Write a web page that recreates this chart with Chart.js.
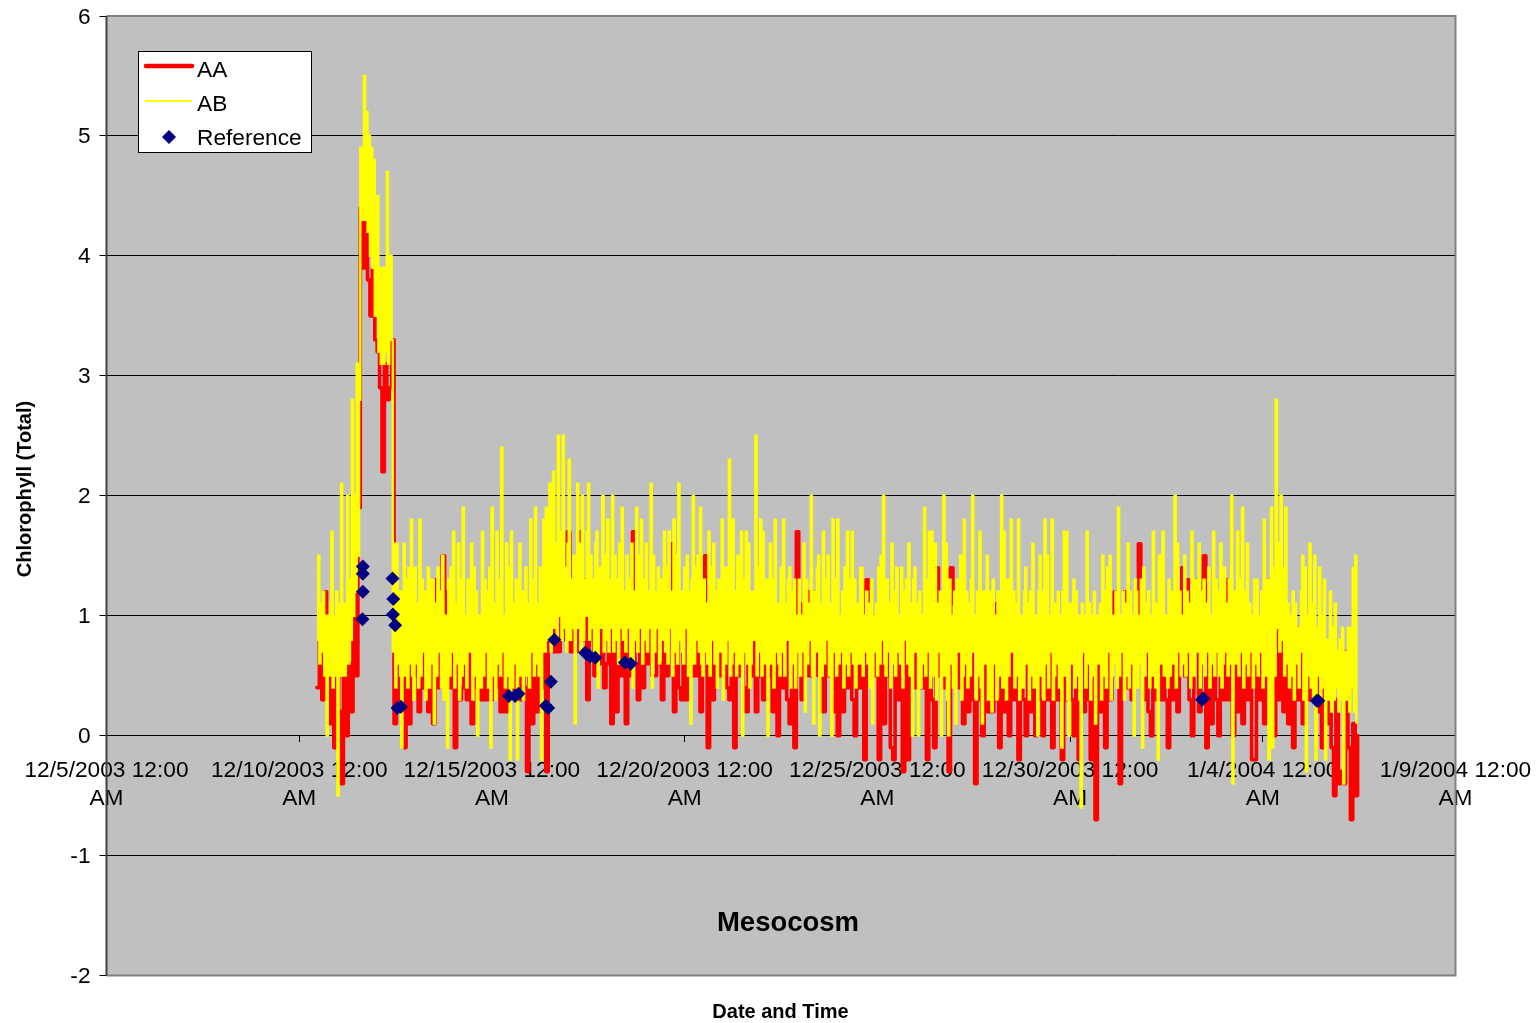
<!DOCTYPE html>
<html>
<head>
<meta charset="utf-8">
<title>Mesocosm</title>
<script src="https://cdn.jsdelivr.net/npm/chart.js@4"></script>
<style>
  html, body { margin: 0; padding: 0; background: #fff; }
  canvas { display: block; }
</style>
</head>
<body>
<canvas id="chlorophyll" width="1539" height="1023"></canvas>
<script>
// x axis is in days since 12/5/2003
const startDay = 5.46;
const aaStepDays = 0.0625;
const abStepDays = 0.03125;

const xTickLabels = [
  ["12/5/2003 12:00", "AM"], ["12/10/2003 12:00", "AM"], ["12/15/2003 12:00", "AM"],
  ["12/20/2003 12:00", "AM"], ["12/25/2003 12:00", "AM"], ["12/30/2003 12:00", "AM"],
  ["1/4/2004 12:00", "AM"], ["1/9/2004 12:00", "AM"],
];

const aaValues = [
  0.4,0.9,0.3,1.2,0.5,0.1,0.7,-0.1,0.6,0.2,-0.4,0.7,0.0,0.6,0.2,1.9,0.5,1.9,4.4,3.9,
  4.6,3.8,3.5,3.9,3.3,3.2,2.9,2.2,3.1,2.8,2.9,3.3,0.1,0.9,0.3,0.9,-0.1,0.8,0.1,0.7,
  0.5,0.9,0.2,0.8,0.4,0.9,0.2,0.8,0.1,1.3,0.4,0.9,1.5,0.4,1.2,0.4,0.9,-0.1,0.8,0.3,
  0.4,0.9,0.3,0.8,0.1,0.9,0.4,0.8,0.3,0.9,0.3,0.8,0.3,0.9,0.4,0.8,0.2,0.9,0.2,0.7,
  0.4,0.8,0.3,0.9,0.3,0.8,0.4,-0.3,0.9,0.1,0.8,0.2,0.9,0.4,0.9,-0.3,1.2,1.9,0.7,1.2,
  0.7,1.3,0.9,0.8,1.7,0.7,1.2,0.7,1.2,1.7,0.8,1.3,0.3,1.1,0.8,0.5,1.1,0.6,1.0,0.4,
  0.6,1.0,0.1,0.9,0.2,1.0,0.5,1.0,0.1,1.1,0.5,1.7,0.6,0.3,1.0,0.4,1.0,0.6,1.0,0.5,
  0.5,1.0,0.6,0.3,1.0,0.5,1.0,1.6,0.2,0.9,0.4,0.3,0.9,0.3,0.9,0.5,1.0,0.5,1.0,0.2,
  0.9,1.5,-0.1,0.9,0.3,1.0,0.5,0.9,0.5,1.0,0.4,0.3,0.9,-0.1,0.9,0.5,1.0,0.4,0.2,0.9,
  0.5,0.9,0.2,0.8,0.5,0.3,0.9,0.5,0.9,0.2,0.9,0.0,0.8,0.4,0.9,0.3,0.1,0.8,-0.1,1.7,
  1.1,0.3,0.9,0.5,1.2,0.5,0.9,1.2,0.5,0.9,0.2,0.8,0.5,0.9,0.2,0.8,0.0,0.8,0.2,0.8,
  0.4,0.9,0.3,0.0,0.9,0.4,0.9,-0.2,1.3,0.9,1.0,0.5,1.0,-0.2,0.9,0.1,0.8,0.5,-0.1,-0.2,
  0.7,0.3,0.8,-0.3,0.8,-0.2,0.8,0.4,0.9,0.4,0.8,0.4,0.8,-0.2,0.8,0.3,-0.1,1.4,0.5,0.9,
  0.4,0.8,-0.3,1.4,1.1,0.9,0.4,0.8,0.1,0.8,0.2,0.8,0.3,-0.4,0.8,0.3,0.0,0.8,0.2,0.9,
  0.2,1.1,0.3,-0.1,0.9,0.2,0.8,0.0,0.9,0.3,0.8,-0.2,0.8,0.3,0.0,0.8,0.2,0.8,0.0,0.8,
  0.3,0.0,0.8,0.3,0.8,-0.1,0.8,0.3,0.8,-0.2,0.8,0.3,0.8,0.3,0.0,0.8,-0.2,0.8,0.2,0.9,
  0.3,-0.2,0.7,-0.7,0.7,0.2,0.8,-0.1,0.8,0.3,0.9,1.2,0.6,-0.4,0.9,1.2,0.4,0.9,0.3,0.9,
  0.9,1.6,0.9,0.3,0.8,0.2,0.0,0.8,0.3,0.8,0.3,0.8,0.3,-0.1,0.8,0.3,0.8,0.2,0.8,1.4,
  0.5,1.3,0.3,0.0,0.9,1.3,0.2,0.9,1.5,-0.1,0.9,0.1,0.9,0.3,0.0,0.9,0.3,1.3,0.3,0.9,
  0.0,0.9,0.2,0.9,0.1,0.9,0.3,0.9,-0.2,-0.2,0.9,0.3,0.9,0.1,0.8,1.3,0.3,0.0,0.9,0.3,
  0.9,0.2,0.9,0.1,0.9,-0.1,0.9,0.3,0.8,0.1,0.8,0.3,0.8,0.3,0.7,0.2,0.7,-0.1,0.7,0.1,
  0.6,-0.1,-0.5,0.3,-0.4,-0.3,-0.4,0.7,-0.1,-0.7,0.1,-0.5,0.0,
];

const abValues = [
  0.8,1.5,0.6,1.1,0.7,1.2,0.5,1.0,0.0,1.0,0.5,1.1,1.7,0.4,1.0,0.5,1.2,-0.5,1.1,0.5,2.1,0.5,1.1,0.5,0.6,2.0,0.6,1.3,0.8,2.8,1.0,2.0,1.2,3.1,1.5,2.8,4.9,4.3,4.9,5.5,
  4.3,5.2,4.2,5.0,4.0,4.9,3.9,4.8,3.5,3.9,4.5,3.2,3.9,3.1,3.9,3.1,3.9,3.2,4.7,3.1,3.9,4.0,3.3,0.7,1.6,0.4,1.6,0.6,1.2,0.5,-0.1,1.2,1.6,0.5,1.3,0.4,1.4,0.6,1.8,0.5,
  0.3,1.4,0.6,1.1,0.4,1.8,0.5,1.3,0.7,1.2,0.3,1.0,1.4,0.4,1.3,0.6,1.3,0.1,1.1,0.5,1.4,0.7,1.2,0.4,1.5,0.3,1.0,0.6,-0.1,1.3,0.5,1.4,0.7,1.7,0.4,1.1,0.6,1.6,0.3,1.3,
  0.5,1.9,0.6,1.0,0.4,1.3,0.7,1.1,1.6,0.3,1.4,0.5,1.2,0.0,1.0,0.6,0.4,1.7,0.5,1.3,0.7,1.2,0.4,1.4,-0.1,1.9,0.5,1.1,0.3,1.7,0.6,1.3,0.5,2.4,0.7,1.0,0.4,1.6,0.5,1.4,
  -0.2,1.7,0.4,1.1,0.6,1.3,-0.2,1.0,1.6,0.5,1.2,0.3,0.6,1.4,0.5,1.1,0.4,1.8,0.7,1.3,0.5,1.9,0.6,1.1,0.5,1.4,-0.2,1.3,1.8,0.7,1.9,0.9,0.8,2.1,0.7,1.5,2.2,0.9,1.6,0.8,
  2.5,1.0,1.7,0.8,2.5,0.9,1.4,0.7,1.6,2.3,0.8,1.3,0.9,1.5,0.1,1.2,2.1,0.9,1.6,0.7,2.0,0.8,1.3,1.0,1.7,2.1,0.8,1.5,0.9,1.3,0.7,1.6,1.7,0.4,1.4,0.9,1.3,2.0,0.7,1.5,
  0.8,1.8,0.7,1.3,0.9,2.0,0.7,1.5,0.8,1.3,0.6,1.6,0.9,1.9,0.8,1.2,0.7,1.5,0.9,1.3,0.6,1.6,0.4,1.2,0.8,1.9,0.7,1.5,0.9,1.8,0.6,1.3,0.8,1.6,0.7,1.2,0.9,2.1,0.4,1.5,
  0.7,1.2,0.9,1.4,0.6,1.3,0.8,1.1,1.7,0.7,1.4,0.6,1.7,0.9,1.2,0.5,1.8,0.7,1.5,0.6,2.1,0.8,1.2,0.7,0.6,1.4,0.9,1.5,0.5,1.2,0.1,1.3,2.0,0.6,1.4,0.8,1.5,0.7,1.9,0.6,
  0.5,1.3,0.7,1.1,0.6,1.7,0.5,1.4,0.8,1.6,0.6,1.2,0.4,1.3,0.7,1.0,1.8,0.3,1.4,0.6,1.4,0.8,2.3,0.5,0.6,1.8,0.7,1.2,0.5,1.5,0.6,1.1,1.7,0.0,1.3,0.7,1.7,0.6,1.6,0.4,
  0.6,1.2,0.8,1.1,2.5,0.5,1.4,0.7,1.8,0.5,1.7,0.6,0.7,1.3,0.0,1.0,1.6,0.6,1.3,0.4,1.8,0.7,1.1,0.6,0.5,1.4,0.7,1.8,0.5,1.1,0.8,1.3,1.4,0.4,1.2,0.6,1.3,0.4,1.0,0.7,
  1.3,0.5,1.0,0.7,1.6,0.2,1.3,0.6,1.1,0.8,2.0,0.5,0.1,1.2,0.7,1.4,1.5,0.0,1.1,0.5,1.7,0.6,1.3,0.8,1.5,0.5,1.1,0.0,1.8,0.7,1.3,0.5,1.8,0.6,1.0,0.7,1.2,0.4,1.4,0.6,
  1.7,0.5,1.3,0.7,1.7,0.6,1.3,0.4,0.8,1.1,0.6,1.4,1.4,0.5,1.0,0.7,1.2,0.6,1.1,0.4,1.3,0.1,1.0,0.7,1.1,0.5,1.4,0.6,1.5,0.8,2.0,0.6,0.5,1.3,0.7,1.1,0.4,1.6,0.6,1.2,
  0.5,1.4,0.7,1.0,0.6,1.4,0.4,1.2,0.8,1.3,0.6,1.6,0.5,1.1,0.0,1.3,1.4,0.7,1.1,0.0,1.2,0.4,1.0,0.6,1.9,0.5,1.3,0.7,1.7,0.4,1.7,0.6,0.5,1.6,0.3,1.1,0.7,1.2,0.0,1.0,
  2.0,0.5,1.6,0.3,0.0,1.3,0.6,1.0,0.4,1.2,0.1,1.3,0.7,1.0,1.5,0.3,0.5,1.8,0.6,1.2,0.4,1.1,0.5,1.3,2.0,0.7,1.0,0.3,1.2,0.5,1.7,0.4,0.1,1.2,0.6,1.0,1.5,0.3,1.2,0.5,
  0.2,1.3,0.6,1.0,0.3,1.2,0.5,1.1,2.0,0.4,1.7,0.6,0.3,1.3,0.5,1.0,1.8,0.7,1.2,0.4,1.1,0.5,1.8,0.3,0.6,1.0,0.4,1.2,1.4,0.6,1.1,0.3,1.2,0.5,1.6,0.4,0.7,1.0,0.0,1.2,
  1.5,0.5,1.2,0.3,1.8,0.6,1.5,0.4,0.7,1.0,1.8,0.3,0.5,1.1,0.6,1.2,0.4,1.0,-0.1,1.2,1.7,0.5,1.7,0.3,0.0,1.1,0.6,1.0,1.3,0.4,1.2,0.5,1.0,0.3,-0.6,1.1,0.7,1.0,0.4,1.7,
  0.6,1.1,0.3,1.0,0.5,1.2,0.1,0.9,1.0,0.6,1.1,0.3,1.5,0.5,1.2,0.4,1.4,0.7,1.5,0.3,0.5,1.0,0.6,1.2,0.4,1.9,0.5,1.0,0.7,1.2,0.3,1.1,0.5,1.6,0.4,1.2,0.6,1.0,0.0,1.3,
  1.2,0.4,1.0,0.6,1.3,-0.1,1.4,0.5,1.1,0.7,1.2,0.4,1.0,0.5,1.7,0.6,0.4,1.1,-0.2,1.5,0.6,1.2,1.7,0.5,0.7,1.0,0.4,1.3,0.5,1.2,0.6,1.1,2.0,0.4,1.6,0.7,1.2,0.5,1.0,0.6,
  1.5,0.5,1.2,0.7,1.1,0.4,1.7,0.6,0.5,1.3,0.7,1.0,1.6,0.4,1.2,0.6,1.3,0.5,1.1,0.7,1.4,0.4,1.0,0.6,1.7,0.5,1.3,0.7,1.2,0.5,1.6,0.4,0.6,1.4,0.7,1.1,0.5,1.3,0.6,2.0,
  -0.4,1.2,0.6,1.0,1.7,0.5,1.3,0.7,1.9,0.4,1.2,0.6,1.6,0.5,1.1,0.7,1.0,0.4,1.3,0.6,1.3,0.5,1.0,0.7,1.2,0.4,1.8,0.6,0.5,1.3,-0.2,1.1,1.9,-0.1,1.4,0.5,2.8,0.9,1.6,0.7,
  2.0,0.8,1.4,0.5,1.9,0.6,1.1,0.4,1.0,0.5,1.2,0.3,1.1,0.6,0.9,0.4,0.7,1.2,1.5,0.3,1.4,-0.3,1.0,0.5,1.6,0.4,1.1,0.3,1.5,-0.2,0.9,0.5,1.4,0.3,1.0,0.4,1.3,-0.2,0.8,0.3,
  0.4,1.2,0.2,0.9,0.3,1.1,0.4,0.7,0.2,0.8,0.3,0.9,-0.4,0.7,0.3,0.6,0.9,0.2,0.9,0.4,1.4,0.2,1.5,0.1,
];

const refDays = [
  6.65, 6.65, 6.65, 6.64, 7.42, 7.44, 7.43, 7.49, 7.55, 7.64, 10.44, 10.60,
  10.69, 11.40, 11.46, 11.53, 11.62, 12.42, 12.46, 12.55, 12.68, 13.45, 13.60,
  28.42, 28.46, 31.40, 31.44,
];
const refValues = [
  1.41, 1.35, 1.20, 0.97, 1.31, 1.14, 1.01, 0.92, 0.23, 0.24, 0.33, 0.33,
  0.35, 0.25, 0.23, 0.45, 0.80, 0.69, 0.68, 0.66, 0.65, 0.61, 0.60,
  0.30, 0.31, 0.29, 0.29,
];

const fontName = "'Liberation Sans', Arial, sans-serif";

// grey plot background and frame
const plotFrame = {
  id: "plotFrame",
  beforeDraw(chart) {
    const { ctx, chartArea: a } = chart;
    ctx.save();
    ctx.fillStyle = "#c0c0c0";
    ctx.fillRect(a.left, a.top, a.right - a.left, a.bottom - a.top);
    ctx.restore();
  },
  beforeDatasetsDraw(chart) {
    const { ctx, chartArea: a } = chart;
    ctx.save();
    ctx.strokeStyle = "#808080";
    ctx.lineWidth = 2;
    ctx.beginPath();
    ctx.moveTo(a.left, a.top);
    ctx.lineTo(a.right, a.top);
    ctx.lineTo(a.right, a.bottom);
    ctx.lineTo(a.left, a.bottom);
    ctx.stroke();
    ctx.strokeStyle = "#404040";
    ctx.beginPath();
    ctx.moveTo(a.left, a.top);
    ctx.lineTo(a.left, a.bottom);
    ctx.stroke();
    ctx.restore();
  },
};

// titles and the boxed legend sit where chart.js would not put them
const overlay = {
  id: "overlay",
  afterDraw(chart) {
    const { ctx } = chart;
    const sets = chart.data.datasets;
    ctx.save();
    ctx.fillStyle = "#000";
    ctx.textBaseline = "middle";
    ctx.textAlign = "center";

    ctx.font = "bold 27.5px " + fontName;
    ctx.fillText("Mesocosm", 788, 923);
    ctx.font = "bold 20px " + fontName;
    ctx.fillText("Date and Time", 780.5, 1012);

    ctx.save();
    ctx.translate(25, 489);
    ctx.rotate(-Math.PI / 2);
    ctx.fillText("Chlorophyll (Total)", 0, 0);
    ctx.restore();

    ctx.fillStyle = "#fff";
    ctx.fillRect(138, 51, 173, 101);
    ctx.strokeStyle = "#000";
    ctx.lineWidth = 1;
    ctx.strokeRect(138.5, 51.5, 173, 101);

    ctx.lineCap = "round";
    ctx.strokeStyle = sets[0].borderColor;
    ctx.lineWidth = 4.5;
    ctx.beginPath(); ctx.moveTo(146, 66); ctx.lineTo(192, 66); ctx.stroke();
    ctx.lineCap = "butt";
    ctx.strokeStyle = sets[1].borderColor;
    ctx.lineWidth = 2;
    ctx.beginPath(); ctx.moveTo(145, 101); ctx.lineTo(192, 101); ctx.stroke();

    ctx.fillStyle = sets[2].backgroundColor;
    ctx.beginPath();
    ctx.moveTo(169, 130); ctx.lineTo(176, 137); ctx.lineTo(169, 144); ctx.lineTo(162, 137);
    ctx.closePath();
    ctx.fill();

    ctx.fillStyle = "#000";
    ctx.textAlign = "left";
    ctx.font = "22.7px " + fontName;
    ctx.fillText(sets[0].label, 197, 70.5);
    ctx.fillText(sets[1].label, 197, 104.5);
    ctx.fillText(sets[2].label, 197, 138.5);
    ctx.restore();
  },
};

new Chart(document.getElementById("chlorophyll"), {
  type: "line",
  data: {
    datasets: [
      {
        label: "AA",
        data: aaValues.map((v, i) => ({ x: startDay + i * aaStepDays, y: v })),
        borderColor: "#ff0000",
        borderWidth: 3.6,
        borderJoinStyle: "round",
        borderCapStyle: "round",
        stepped: true,
        pointRadius: 0,
        order: 3,
      },
      {
        label: "AB",
        data: abValues.map((v, i) => ({ x: startDay + i * abStepDays, y: v })),
        borderColor: "#ffff00",
        borderWidth: 2.4,
        stepped: true,
        pointRadius: 0,
        order: 2,
      },
      {
        label: "Reference",
        data: refDays.map((d, i) => ({ x: d, y: refValues[i] })),
        showLine: false,
        backgroundColor: "#000080",
        borderColor: "#000080",
        pointStyle: "rectRot",
        pointRadius: 7,
        pointBorderWidth: 0,
        order: 1,
      },
    ],
  },
  options: {
    responsive: false,
    animation: false,
    layout: { padding: { top: 16, right: 83.5, bottom: 47.5, left: 0 } },
    plugins: { legend: { display: false }, title: { display: false }, tooltip: { enabled: false } },
    scales: {
      x: {
        type: "linear",
        position: { y: 0 },
        min: 0,
        max: 35,
        afterFit(scale) { scale.paddingLeft = 0; scale.paddingRight = 0; },
        border: { color: "#000", width: 1 },
        grid: { drawOnChartArea: false, drawTicks: true, tickLength: 6, tickColor: "#000", color: "#000" },
        ticks: {
          stepSize: 5,
          autoSkip: false,
          maxRotation: 0,
          minRotation: 0,
          padding: 15,
          color: "#000",
          font: { family: fontName, size: 22.7, lineHeight: 1.23 },
          callback: (v) => xTickLabels[v / 5],
        },
      },
      y: {
        min: -2,
        max: 6,
        afterFit(scale) { scale.width = 106.5; scale.paddingTop = 0; scale.paddingBottom = 0; },
        border: { display: false },
        grid: {
          color: (c) => (c.tick.value === 6 || c.tick.value === -2 ? "#808080" : "#000"),
          tickColor: "#000",
          tickLength: 7,
          lineWidth: 1,
        },
        ticks: {
          stepSize: 1,
          padding: 9,
          color: "#000",
          // blank first line with a tiny line height nudges the numbers down 2-3px
          font: { family: fontName, size: 22.7, lineHeight: 0.11 },
          callback: (v) => ["", String(v)],
        },
      },
    },
  },
  plugins: [plotFrame, overlay],
});
</script>
</body>
</html>
